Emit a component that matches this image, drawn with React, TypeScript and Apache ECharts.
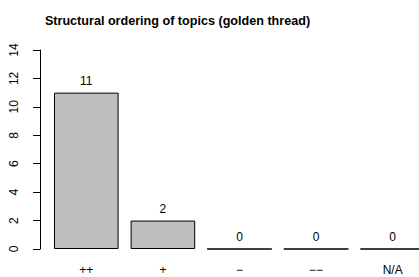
import React, { useEffect, useRef } from "react";
import * as echarts from "echarts";

const categories = ["++", "+", "\u2212", "\u2212\u2212", "N/A"];
const counts = [11, 2, 0, 0, 0];
const yTicks = [0, 2, 4, 6, 8, 10, 12, 14];
const titleText = "Structural ordering of topics (golden thread)";

export default function App() {
  const ref = useRef<HTMLDivElement>(null);
  useEffect(() => {
    const chart = echarts.init(ref.current!, null, { renderer: "svg" });
    const font = "Liberation Sans, Arial, Helvetica, sans-serif";
    chart.setOption({
      animation: false,
      backgroundColor: "#ffffff",
      title: {
        text: titleText,
        left: 172.5,
        textAlign: "center",
        top: 9,
        textStyle: { fontFamily: font, fontWeight: "bold", fontSize: 12.6, color: "#000" },
      },
      grid: {
        left: 48,
        top: 50,
        width: 383,
        height: 199,
        containLabel: false,
        outerBoundsMode: "none",
      },
      xAxis: {
        type: "category",
        data: categories,
        boundaryGap: true,
        axisLine: { show: false },
        axisTick: { show: false },
        axisLabel: { fontFamily: font, fontSize: 12, color: "#000", margin: 15 },
      },
      yAxis: {
        type: "value",
        min: yTicks[0],
        max: yTicks[yTicks.length - 1],
        interval: 2,
        offset: 8,
        splitLine: { show: false },
        axisLine: { show: true, lineStyle: { color: "#000", width: 1 } },
        axisTick: { show: true, length: 7, lineStyle: { color: "#000" } },
        axisLabel: { fontFamily: font, fontSize: 12, color: "#000", rotate: 90, margin: 20, align: "center" },
      },
      series: [
        {
          type: "bar",
          data: counts,
          barWidth: 64.6,
          itemStyle: { color: "#bebebe", borderColor: "#000", borderWidth: 1 },
          label: {
            show: true,
            position: "top",
            distance: 6,
            fontFamily: font,
            fontSize: 12,
            color: "#000",
          },
        },
      ],
    });
    return () => chart.dispose();
  }, []);
  return <div ref={ref} style={{ width: 419, height: 277, position: "absolute", left: 0, top: 0 }} />;
}
